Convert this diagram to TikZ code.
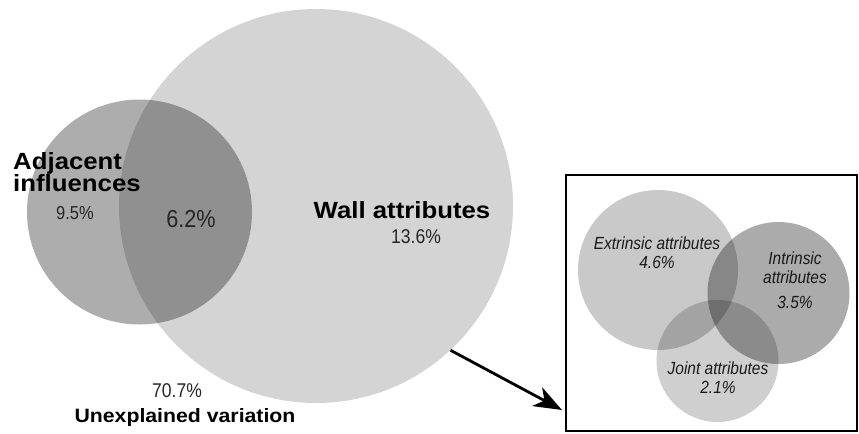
\documentclass[tikz,border=0pt]{standalone}
\usepackage{fontspec}
\setmainfont{Liberation Sans}
\newfontfamily\narrowfont[FakeStretch=0.88]{Liberation Sans}
\newfontfamily\wideboldfont[FakeStretch=1.1]{Liberation Sans}
\usetikzlibrary{arrows.meta, positioning, calc}

\begin{document}
\begin{tikzpicture}[x=0.3mm, y=-0.3mm,
    venn/.style={circle, draw=none, fill=black, inner sep=0pt},
    head/.style={font=\wideboldfont\bfseries\fontsize{20}{19}\selectfont,
                 inner sep=0pt, align=left},
    pct/.style={font=\narrowfont\fontsize{#1}{#1}\selectfont,
                text=black!85, inner sep=0pt},
    sub/.style={font=\narrowfont\itshape\fontsize{15}{16.5}\selectfont,
                align=center, inner sep=0pt, text=black!90},
    arr/.style={-{Stealth[length=24pt, width=18pt, inset=7pt]}, line width=2.4pt}
  ]
    \useasboundingbox (0,0) rectangle (859,433);

    %% Main diagram
    \node[venn, fill opacity=0.17, minimum size=118.2mm] (wall) at (316,206) {};
    \node[venn, fill opacity=0.32, minimum size=67.5mm] (adj) at (139.5,212) {};

    \node[head, anchor=north west] (adjlbl) at (13,152) {Adjacent\\influences};
    \node[pct=16] (adjpct) at (75,213) {9.5\%};
    \node[pct=21] (sharedpct) at (191,219) {6.2\%};
    \node[head, anchor=center] (walllbl) at (402,210) {Wall attributes};
    \node[pct=17] (wallpct) at (416,237) {13.6\%};
    \node[pct=17] (unexpct) at (177,391) {70.7\%};
    \node[head, font=\wideboldfont\bfseries\fontsize{16.5}{18}\selectfont]
      (unexlbl) at (185,417) {Unexplained variation};

    %% Inset: parts of wall attributes
    \node[draw, line width=1.5pt, minimum width=87.3mm, minimum height=76.8mm,
          inner sep=0pt] (inset) at (711.5,303) {};
    \node[venn, fill opacity=0.21, minimum size=48mm] (extr) at (658,270) {};
    \node[venn, fill opacity=0.33, minimum size=42.6mm] (intr) at (778.5,293) {};
    \node[venn, fill opacity=0.19, minimum size=36.6mm] (joint) at (717.5,361) {};

    \node[sub] (extrlbl) at (657,253) {Extrinsic attributes\\4.6\%};
    \node[sub] (intrlbl) at (795,280) {Intrinsic\\attributes\\[5pt]3.5\%};
    \node[sub] (jointlbl) at (718,378) {Joint attributes\\2.1\%};

    %% Zoom arrow
    \coordinate (tip) at (562,410);
    \draw[arr] (wall.-47) -- (tip);
  \end{tikzpicture}
\end{document}
